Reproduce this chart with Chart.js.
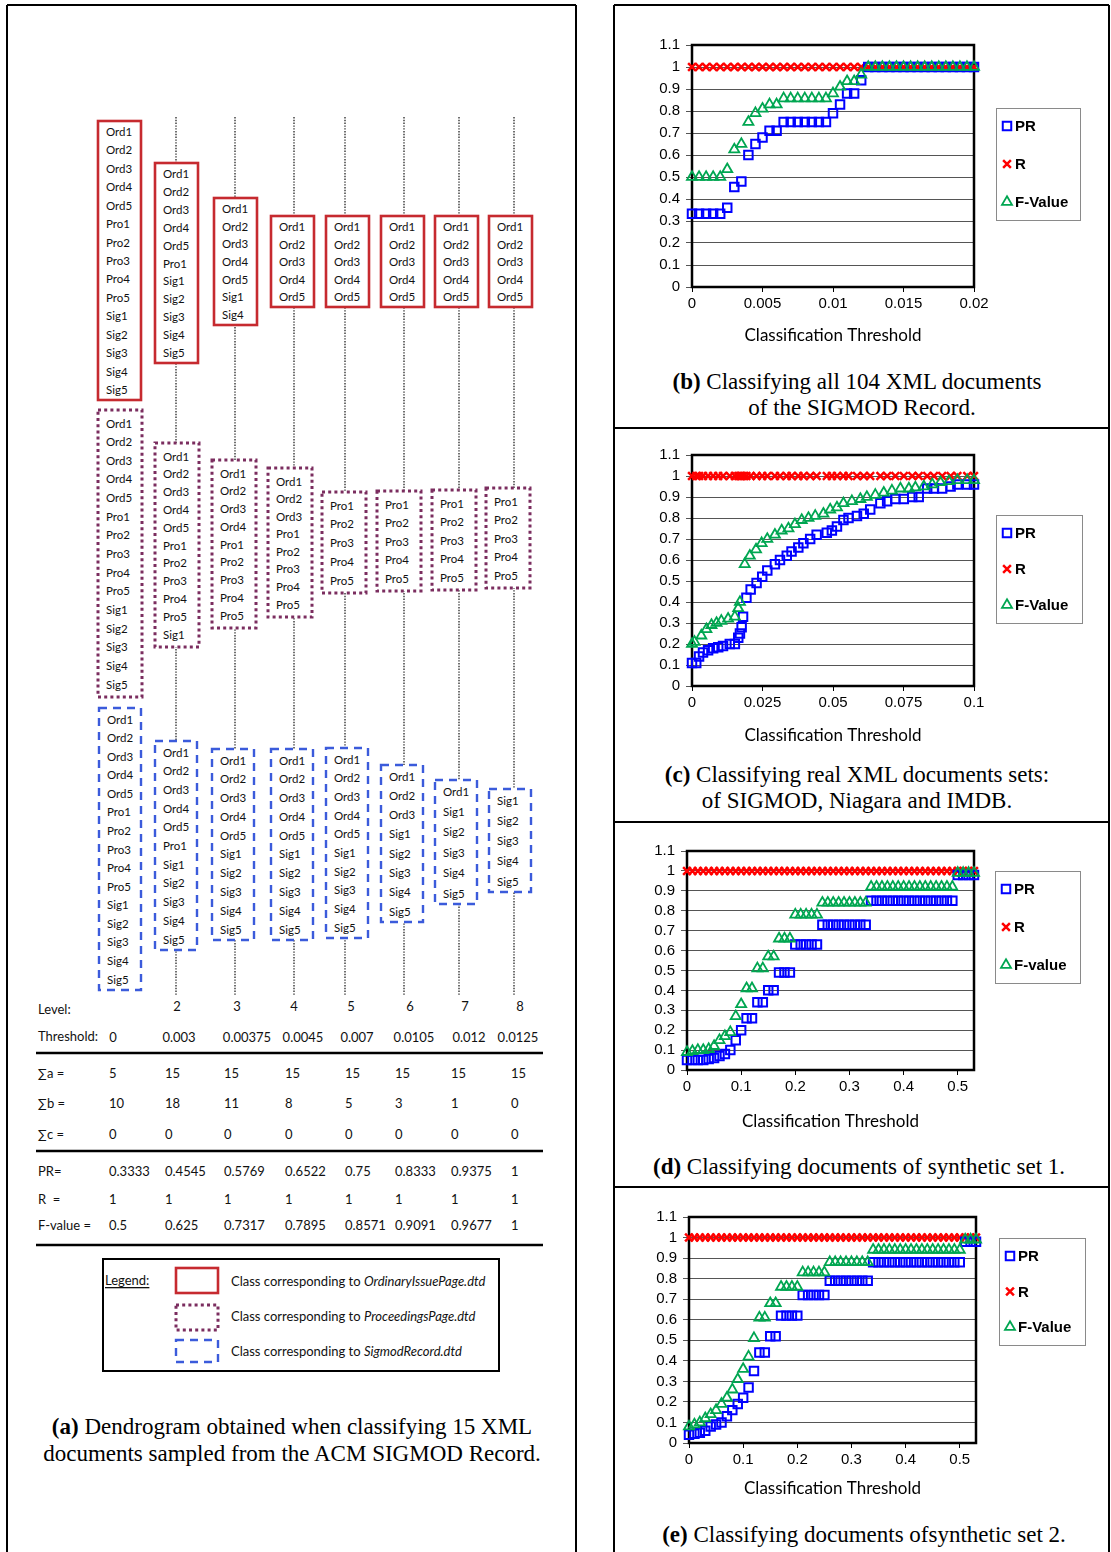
<!DOCTYPE html>
<html>
<head>
<meta charset="utf-8">
<title>PR / R / F-value against classification threshold</title>
<script src="https://cdn.jsdelivr.net/npm/chart.js@4.4.0/dist/chart.umd.min.js"></script>
<style>
  html, body { margin: 0; padding: 0; background: #fff; }
  #page { position: relative; width: 1111px; height: 1552px; overflow: hidden; }
  #page svg { position: absolute; left: 0; top: 0; }
  #page canvas { position: absolute; }
</style>
</head>
<body>
<div id="page">
  <svg id="fig" width="1111" height="1552"></svg>
  <canvas id="chartB"></canvas>
  <canvas id="chartC"></canvas>
  <canvas id="chartD"></canvas>
  <canvas id="chartE"></canvas>
</div>
<script>
// ---------- (a) dendrogram + table data ----------
var ordinaryClusters = [
  ['Ord1','Ord2','Ord3','Ord4','Ord5','Pro1','Pro2','Pro3','Pro4','Pro5','Sig1','Sig2','Sig3','Sig4','Sig5'],
  ['Ord1','Ord2','Ord3','Ord4','Ord5','Pro1','Sig1','Sig2','Sig3','Sig4','Sig5'],
  ['Ord1','Ord2','Ord3','Ord4','Ord5','Sig1','Sig4'],
  ['Ord1','Ord2','Ord3','Ord4','Ord5'],
  ['Ord1','Ord2','Ord3','Ord4','Ord5'],
  ['Ord1','Ord2','Ord3','Ord4','Ord5'],
  ['Ord1','Ord2','Ord3','Ord4','Ord5'],
  ['Ord1','Ord2','Ord3','Ord4','Ord5']
];
var proceedingsClusters = [
  ['Ord1','Ord2','Ord3','Ord4','Ord5','Pro1','Pro2','Pro3','Pro4','Pro5','Sig1','Sig2','Sig3','Sig4','Sig5'],
  ['Ord1','Ord2','Ord3','Ord4','Ord5','Pro1','Pro2','Pro3','Pro4','Pro5','Sig1'],
  ['Ord1','Ord2','Ord3','Ord4','Pro1','Pro2','Pro3','Pro4','Pro5'],
  ['Ord1','Ord2','Ord3','Pro1','Pro2','Pro3','Pro4','Pro5'],
  ['Pro1','Pro2','Pro3','Pro4','Pro5'],
  ['Pro1','Pro2','Pro3','Pro4','Pro5'],
  ['Pro1','Pro2','Pro3','Pro4','Pro5'],
  ['Pro1','Pro2','Pro3','Pro4','Pro5']
];
var sigmodClusters = [
  ['Ord1','Ord2','Ord3','Ord4','Ord5','Pro1','Pro2','Pro3','Pro4','Pro5','Sig1','Sig2','Sig3','Sig4','Sig5'],
  ['Ord1','Ord2','Ord3','Ord4','Ord5','Pro1','Sig1','Sig2','Sig3','Sig4','Sig5'],
  ['Ord1','Ord2','Ord3','Ord4','Ord5','Sig1','Sig2','Sig3','Sig4','Sig5'],
  ['Ord1','Ord2','Ord3','Ord4','Ord5','Sig1','Sig2','Sig3','Sig4','Sig5'],
  ['Ord1','Ord2','Ord3','Ord4','Ord5','Sig1','Sig2','Sig3','Sig4','Sig5'],
  ['Ord1','Ord2','Ord3','Sig1','Sig2','Sig3','Sig4','Sig5'],
  ['Ord1','Sig1','Sig2','Sig3','Sig4','Sig5'],
  ['Sig1','Sig2','Sig3','Sig4','Sig5']
];
var levelLabels = ['', '2', '3', '4', '5', '6', '7', '8'];
var thresholdLabels = ['0', '0.003', '0.00375', '0.0045', '0.007', '0.0105', '0.012', '0.0125'];
var sumA = ['5', '15', '15', '15', '15', '15', '15', '15'];
var sumB = ['10', '18', '11', '8', '5', '3', '1', '0'];
var sumC = ['0', '0', '0', '0', '0', '0', '0', '0'];
var tablePR = ['0.3333', '0.4545', '0.5769', '0.6522', '0.75', '0.8333', '0.9375', '1'];
var tableR = ['1', '1', '1', '1', '1', '1', '1', '1'];
var tableF = ['0.5', '0.625', '0.7317', '0.7895', '0.8571', '0.9091', '0.9677', '1'];

// ---------- (b) all 104 SIGMOD docs ----------
var bX = [0,0.0005,0.001,0.0015,0.002,0.0025,0.003,0.0035,0.004,0.0045,
          0.005,0.0055,0.006,0.0065,0.007,0.0075,0.008,0.0085,0.009,0.0095,
          0.01,0.0105,0.011,0.0115,0.012,0.0125,0.013,0.0135,0.014,0.0145,
          0.015,0.0155,0.016,0.0165,0.017,0.0175,0.018,0.0185,0.019,0.0195,0.02];
var bPR = [0.3333,0.3333,0.3333,0.3333,0.3333,0.36,0.4545,0.48,0.6,0.65,
           0.68,0.71,0.71,0.75,0.75,0.75,0.75,0.75,0.75,0.75,
           0.79,0.83,0.88,0.88,0.94,1,1,1,1,1,
           1,1,1,1,1,1,1,1,1,1,1];
var bR = [1,1,1,1,1,1,1,1,1,1, 1,1,1,1,1,1,1,1,1,1, 1,1,1,1,1,1,1,1,1,1, 1,1,1,1,1,1,1,1,1,1,1];
var bF = [0.5,0.5,0.5,0.5,0.5,0.535,0.625,0.65,0.75,0.79,
          0.81,0.83,0.83,0.857,0.857,0.857,0.857,0.857,0.857,0.857,
          0.88,0.91,0.935,0.935,0.965,1,1,1,1,1,
          1,1,1,1,1,1,1,1,1,1,1];
var bXTicks = [0, 0.005, 0.01, 0.015, 0.02];
var bXLabels = ['0', '0.005', '0.01', '0.015', '0.02'];

// ---------- (c) SIGMOD, Niagara, IMDB ----------
var cXPR = [0,0.0015,0.0025,0.0039,0.0057,0.0075,0.0093,0.011,0.0134,0.0152,
            0.0164,0.017,0.0176,0.0181,0.0193,0.0208,0.0229,0.0249,0.0267,0.0294,
            0.0312,0.0336,0.0353,0.0377,0.0395,0.0419,0.0442,0.0478,0.0496,0.0514,
            0.0537,0.0555,0.0585,0.0609,0.0632,0.0668,0.0692,0.0721,0.0751,0.0781,
            0.0804,0.0834,0.0858,0.0887,0.0917,0.0941,0.0976,0.1];
var cPR = [0.11,0.11,0.14,0.16,0.17,0.18,0.185,0.19,0.2,0.2,
           0.23,0.25,0.28,0.33,0.42,0.46,0.49,0.52,0.55,0.58,
           0.6,0.62,0.64,0.66,0.68,0.7,0.72,0.73,0.74,0.76,
           0.79,0.8,0.81,0.82,0.84,0.87,0.88,0.89,0.89,0.9,
           0.9,0.94,0.94,0.94,0.95,0.96,0.96,0.96];
var cR = [1,1,1,1,1,1,1,1,1,1, 1,1,1,1,1,1,1,1,1,1, 1,1,1,1,1,1,1,1,1,1, 1,1,1,1,1,1,1,1,1,1, 1,1,1,1,1,1,1,1];
var cXF = [0,0.0009,0.0033,0.0051,0.0069,0.0087,0.0104,0.0128,0.0152,0.0164,
           0.017,0.0187,0.0205,0.0227,0.0247,0.0267,0.0294,0.0318,0.0342,0.0365,
           0.0389,0.0413,0.0437,0.0466,0.049,0.0514,0.0537,0.0567,0.0597,0.062,
           0.065,0.068,0.0709,0.0739,0.0769,0.0792,0.0822,0.0852,0.0881,0.0911,
           0.0941,0.0976,0.1];
var cF = [0.2,0.21,0.24,0.27,0.29,0.3,0.31,0.32,0.33,0.37,
          0.4,0.58,0.62,0.65,0.68,0.7,0.72,0.74,0.75,0.77,
          0.79,0.8,0.81,0.82,0.84,0.85,0.87,0.88,0.89,0.9,
          0.91,0.92,0.93,0.94,0.94,0.945,0.95,0.96,0.97,0.975,
          0.98,0.98,0.98];
var cXTicks = [0, 0.025, 0.05, 0.075, 0.1];
var cXLabels = ['0', '0.025', '0.05', '0.075', '0.1'];

// ---------- (d), (e) synthetic sets ----------
var synthX = [0,0.01,0.02,0.03,0.04,0.05,0.06,0.07,0.08,0.09,
              0.1,0.11,0.12,0.13,0.14,0.15,0.16,0.17,0.18,0.19,
              0.2,0.21,0.22,0.23,0.24,0.25,0.26,0.27,0.28,0.29,
              0.3,0.31,0.32,0.33,0.34,0.35,0.36,0.37,0.38,0.39,
              0.4,0.41,0.42,0.43,0.44,0.45,0.46,0.47,0.48,0.49,
              0.5,0.51,0.52,0.53];
var synthR = [1,1,1,1,1,1,1,1,1,1, 1,1,1,1,1,1,1,1,1,1, 1,1,1,1,1,1,1,1,1,1,
              1,1,1,1,1,1,1,1,1,1, 1,1,1,1,1,1,1,1,1,1, 1,1,1,1];
var dPR = [0.05,0.05,0.05,0.05,0.055,0.06,0.07,0.08,0.1,0.15,
           0.2,0.26,0.26,0.34,0.34,0.4,0.4,0.49,0.49,0.49,
           0.63,0.63,0.63,0.63,0.63,0.73,0.73,0.73,0.73,0.73,
           0.73,0.73,0.73,0.73,0.85,0.85,0.85,0.85,0.85,0.85,
           0.85,0.85,0.85,0.85,0.85,0.85,0.85,0.85,0.85,0.85,
           0.98,0.98,0.98,0.98];
var dF = [0.09,0.095,0.1,0.1,0.105,0.12,0.15,0.17,0.19,0.27,
          0.33,0.41,0.41,0.51,0.51,0.57,0.57,0.66,0.66,0.66,
          0.78,0.78,0.78,0.78,0.78,0.84,0.84,0.84,0.84,0.84,
          0.84,0.84,0.84,0.84,0.92,0.92,0.92,0.92,0.92,0.92,
          0.92,0.92,0.92,0.92,0.92,0.92,0.92,0.92,0.92,0.92,
          0.99,0.99,0.99,0.99];
var ePR = [0.04,0.045,0.05,0.06,0.08,0.09,0.1,0.13,0.16,0.19,
           0.22,0.27,0.35,0.44,0.44,0.52,0.52,0.62,0.62,0.62,
           0.62,0.72,0.72,0.72,0.72,0.72,0.79,0.79,0.79,0.79,
           0.79,0.79,0.79,0.79,0.88,0.88,0.88,0.88,0.88,0.88,
           0.88,0.88,0.88,0.88,0.88,0.88,0.88,0.88,0.88,0.88,
           0.88,0.98,0.98,0.98];
var eF = [0.08,0.09,0.1,0.12,0.14,0.16,0.19,0.22,0.26,0.31,
          0.36,0.42,0.51,0.61,0.61,0.68,0.68,0.76,0.76,0.76,
          0.76,0.83,0.83,0.83,0.83,0.83,0.88,0.88,0.88,0.88,
          0.88,0.88,0.88,0.88,0.94,0.94,0.94,0.94,0.94,0.94,
          0.94,0.94,0.94,0.94,0.94,0.94,0.94,0.94,0.94,0.94,
          0.94,0.99,0.99,0.99];
var synthXTicks = [0, 0.1, 0.2, 0.3, 0.4, 0.5];
var synthXLabels = ['0', '0.1', '0.2', '0.3', '0.4', '0.5'];

var yTicks = [0, 0.1, 0.2, 0.3, 0.4, 0.5, 0.6, 0.7, 0.8, 0.9, 1, 1.1];
var yLabels = ['0', '0.1', '0.2', '0.3', '0.4', '0.5', '0.6', '0.7', '0.8', '0.9', '1', '1.1'];

// ================= SVG part (frames, dendrogram, table, captions) =================
var NS = 'http://www.w3.org/2000/svg';
var fig = document.getElementById('fig');
function el(tag, attrs, parent, text) {
  var e = document.createElementNS(NS, tag);
  for (var k in attrs) e.setAttribute(k, attrs[k]);
  if (text !== undefined) e.textContent = text;
  (parent || fig).appendChild(e);
  return e;
}
function line(x1, y1, x2, y2, st) {
  var a = { x1: x1, y1: y1, x2: x2, y2: y2, stroke: '#000', 'stroke-width': 2 };
  for (var k in st) a[k] = st[k];
  return el('line', a);
}

// panel frames
[[7,5,7,1552],[7,5,576,5],[576,5,576,1552],
 [614,5,614,1552],[614,5,1109,5],[1109,5,1109,1552],
 [614,428,1109,428],[614,822,1109,822],[614,1187,1109,1187]].forEach(function (l) {
  line(l[0], l[1], l[2], l[3]);
});

// dotted level lines
[176, 235, 294, 345, 404, 459, 514].forEach(function (x) {
  line(x, 117, x, 995, { stroke: '#333', 'stroke-width': 1.4, 'stroke-dasharray': '1.4,1.4' });
});

var redStyle = { stroke: '#C62A2F', 'stroke-width': 2.6 };
var purpleStyle = { stroke: '#7B2D5F', 'stroke-width': 3, 'stroke-dasharray': '3,3.2' };
var blueStyle = { stroke: '#3B5BDB', 'stroke-width': 2.4, 'stroke-dasharray': '8,6' };

function drawClusters(clusters, lefts, width, spans, style, pad) {
  clusters.forEach(function (items, i) {
    var x = lefts[i], top = spans[i][0], h = spans[i][1] - spans[i][0];
    var a = { x: x, y: top, width: width, height: h, fill: '#fff' };
    for (var k in style) a[k] = style[k];
    el('rect', a);
    var step = (h - 2 * pad) / (items.length - 1);
    items.forEach(function (name, j) {
      el('text', { x: x + 8, y: top + pad + j * step, 'dominant-baseline': 'central',
                   'font-family': 'Lato', 'font-size': 11.5, fill: '#111' }, null, name);
    });
  });
}
drawClusters(ordinaryClusters, [98,155,214,271,326,381,435,489], 43,
  [[121,400],[163,363],[198,325],[216,307],[216,307],[216,307],[216,307],[216,307]], redStyle, 10.5);
drawClusters(proceedingsClusters, [98,155,212,268,322,377,432,486], 44,
  [[410,697],[443,647],[460,628],[468,617],[492,593],[491,591],[490,590],[488,588]], purpleStyle, 13);
drawClusters(sigmodClusters, [99,155,212,271,326,381,435,489], 42,
  [[708,990],[741,950],[749,940],[749,940],[748,938],[765,922],[780,904],[789,892]], blueStyle, 11);

// table
var tFont = { 'font-family': 'Lato', 'font-size': 13, fill: '#111', 'dominant-baseline': 'central' };
function tText(x, y, s, anchor) {
  var a = { x: x, y: y, 'text-anchor': anchor || 'start' };
  for (var k in tFont) a[k] = tFont[k];
  return el('text', a, null, s);
}
var colStart = [109, 165, 224, 285, 345, 395, 451, 511];
var thrCenter = [113, 179, 247, 303, 357, 414, 469, 518];
var lvlCenter = [113, 177, 237, 294, 351, 410, 465, 520];
tText(38, 1009, 'Level:');
levelLabels.forEach(function (s, i) { if (s) tText(lvlCenter[i], 1006, s, 'middle'); });
tText(38, 1036, 'Threshold:');
thresholdLabels.forEach(function (s, i) { tText(thrCenter[i], 1037, s, 'middle'); });
[['\u2211a =', sumA, 1073], ['\u2211b =', sumB, 1103], ['\u2211c =', sumC, 1134],
 ['PR=', tablePR, 1171], ['R\u00a0\u00a0=', tableR, 1199], ['F-value =', tableF, 1225]].forEach(function (r) {
  tText(38, r[2], r[0]);
  r[1].forEach(function (s, i) { tText(colStart[i], r[2], s); });
});
[1053, 1151, 1245].forEach(function (y) { line(36, y, 543, y, { 'stroke-width': 2.6 }); });

// legend of (a)
el('rect', { x: 103, y: 1259, width: 396, height: 112, fill: 'none', stroke: '#000', 'stroke-width': 2 });
el('text', { x: 105, y: 1280, 'dominant-baseline': 'central', 'font-family': 'Lato', 'font-size': 13,
             'text-decoration': 'underline', fill: '#111' }, null, 'Legend:');
[[redStyle, 1268, 25, 'OrdinaryIssuePage.dtd', 1281],
 [purpleStyle, 1305, 25, 'ProceedingsPage.dtd', 1316],
 [blueStyle, 1340, 22, 'SigmodRecord.dtd', 1351]].forEach(function (row) {
  var a = { x: 176, y: row[1], width: 42, height: row[2], fill: '#fff' };
  for (var k in row[0]) a[k] = row[0][k];
  el('rect', a);
  var t = el('text', { x: 231, y: row[4], 'dominant-baseline': 'central', 'font-family': 'Lato',
                       'font-size': 13, fill: '#111' });
  el('tspan', {}, t, 'Class corresponding to ');
  el('tspan', { 'font-style': 'italic' }, t, row[3]);
});

// captions
function caption(cx, cy, bold, rest) {
  var t = el('text', { x: cx, y: cy, 'text-anchor': 'middle', 'dominant-baseline': 'central',
                       'font-family': 'Liberation Serif', 'font-size': 23, fill: '#000' });
  if (bold) el('tspan', { 'font-weight': 'bold' }, t, bold);
  el('tspan', {}, t, rest);
}
caption(292, 1426, '(a)', ' Dendrogram obtained when classifying 15 XML');
caption(292, 1453, '', 'documents sampled from the ACM SIGMOD Record.');
caption(857, 381, '(b)', ' Classifying all 104 XML documents');
caption(862, 407, '', 'of the SIGMOD Record.');
caption(857, 774, '(c)', ' Classifying real XML documents sets:');
caption(857, 800, '', 'of SIGMOD, Niagara and IMDB.');
caption(859, 1166, '(d)', ' Classifying documents of synthetic set 1.');
caption(864, 1534, '(e)', ' Classifying documents ofsynthetic set 2.');

// ================= Chart.js part =================
function pts(xs, ys) { return xs.map(function (x, i) { return { x: x, y: ys[i] }; }); }

function drawMarker(ctx, style, r, x, y) {
  ctx.beginPath();
  if (style === 'rect') {
    var s = Math.SQRT1_2 * r;
    ctx.rect(x - s, y - s, 2 * s, 2 * s);
  } else if (style === 'triangle') {
    ctx.moveTo(x, y - r);
    ctx.lineTo(x + r * Math.sin(2 * Math.PI / 3), y - r * Math.cos(2 * Math.PI / 3));
    ctx.lineTo(x + r * Math.sin(4 * Math.PI / 3), y - r * Math.cos(4 * Math.PI / 3));
    ctx.closePath();
  } else {
    var o = Math.SQRT1_2 * r;
    ctx.moveTo(x - o, y - o); ctx.lineTo(x + o, y + o);
    ctx.moveTo(x + o, y - o); ctx.lineTo(x - o, y + o);
  }
  ctx.stroke();
}

// frame round the plot area
var plotFrame = {
  id: 'plotFrame',
  beforeDatasetsDraw: function (chart) {
    var a = chart.chartArea, ctx = chart.ctx;
    ctx.save();
    ctx.strokeStyle = '#000';
    ctx.lineWidth = 2.5;
    ctx.strokeRect(a.left, a.top, a.right - a.left, a.bottom - a.top);
    ctx.restore();
  }
};

// Excel-like boxed legend to the right of the plot
var boxLegend = {
  id: 'boxLegend',
  afterDraw: function (chart, args, o) {
    var a = chart.chartArea, ctx = chart.ctx;
    var x0 = a.right + o.dx, y0 = a.top + o.dy;
    ctx.save();
    ctx.strokeStyle = '#8a8a8a';
    ctx.lineWidth = 1;
    ctx.strokeRect(Math.round(x0) + 0.5, Math.round(y0) + 0.5, o.w, o.h);
    var step = (o.h - 36) / 2;
    chart.data.datasets.forEach(function (ds, i) {
      var y = y0 + 18 + i * step;
      ctx.strokeStyle = ds.pointBorderColor;
      ctx.lineWidth = ds.pointBorderWidth;
      drawMarker(ctx, ds.pointStyle, ds.pointRadius, x0 + 11, y);
      ctx.fillStyle = '#000';
      ctx.font = 'bold 15px "Liberation Sans", Arial, sans-serif';
      ctx.textBaseline = 'middle';
      ctx.fillText(ds.label, x0 + 19, y + 1);
    });
    ctx.restore();
  }
};

function makeChart(id, p) {
  var canvasLeft = p.plotLeft - 67, canvasTop = p.plotTop - 14, canvasRight = 1105;
  var canvasBottom = Math.round(p.titleY + 10.2 + 4);
  var w = canvasRight - canvasLeft, h = canvasBottom - canvasTop;
  var cv = document.getElementById(id);
  cv.width = w; cv.height = h;
  cv.style.left = canvasLeft + 'px'; cv.style.top = canvasTop + 'px';
  cv.style.width = w + 'px'; cv.style.height = h + 'px';
  var tickFont = { family: '"Liberation Sans", Arial, sans-serif', size: 15 };
  var xHeight = canvasBottom - p.plotBottom;

  function series(label, data, style, color, radius, bw, order) {
    return {
      label: label, data: data, showLine: false, clip: false, order: order,
      pointStyle: style, pointRadius: radius, pointHoverRadius: radius,
      pointBorderColor: color, pointBackgroundColor: 'rgba(0,0,0,0)', pointBorderWidth: bw
    };
  }

  return new Chart(cv, {
    type: 'scatter',
    data: {
      datasets: [
        series('PR', p.pr, 'rect', '#0000FF', 6, 2, 1),
        series('R', p.r, 'crossRot', '#FF0000', 5.5, 2.5, 2),
        series(p.fLabel, p.f, 'triangle', '#00A651', 5.8, 1.8, 0)
      ]
    },
    options: {
      responsive: false,
      animation: false,
      devicePixelRatio: 1,
      layout: { padding: { top: 14, right: canvasRight - p.plotRight, left: 0, bottom: 0 } },
      plugins: {
        legend: { display: false },
        tooltip: { enabled: false },
        boxLegend: p.legend
      },
      scales: {
        x: {
          type: 'linear', min: 0, max: p.xMax,
          afterFit: function (s) { s.height = xHeight; },
          afterBuildTicks: function (s) { s.ticks = p.xTicks.map(function (v) { return { value: v }; }); },
          ticks: { font: tickFont, color: '#000', padding: 3, maxRotation: 0, autoSkip: false,
                   callback: function (v, i) { return p.xLabels[i]; } },
          grid: { drawOnChartArea: false, drawTicks: true, tickLength: 5, color: '#000' },
          border: { display: true, color: '#000', width: 2 },
          title: { display: true, text: 'Classification Threshold', color: '#000',
                   font: { family: 'Lato', size: 17 }, padding: { top: 0, bottom: 4 } }
        },
        y: {
          min: 0, max: 1.1,
          afterFit: function (s) { s.width = 67; },
          afterBuildTicks: function (s) { s.ticks = yTicks.map(function (v) { return { value: v }; }); },
          ticks: { font: tickFont, color: '#000', padding: 6, autoSkip: false,
                   callback: function (v, i) { return yLabels[i]; } },
          grid: { color: '#555', lineWidth: 1, drawTicks: true, tickLength: 6 },
          border: { color: '#000', width: 2 }
        }
      }
    },
    plugins: [plotFrame, boxLegend]
  });
}

makeChart('chartB', {
  plotLeft: 692, plotRight: 974, plotTop: 44, plotBottom: 287, titleY: 336,
  xMax: 0.02, xTicks: bXTicks, xLabels: bXLabels, fLabel: 'F-Value',
  pr: pts(bX, bPR), r: pts(bX, bR), f: pts(bX, bF),
  legend: { dx: 22, dy: 63, w: 84, h: 112 }
});
makeChart('chartC', {
  plotLeft: 692, plotRight: 974, plotTop: 454, plotBottom: 686, titleY: 736,
  xMax: 0.1, xTicks: cXTicks, xLabels: cXLabels, fLabel: 'F-Value',
  pr: pts(cXPR, cPR), r: pts(cXPR, cR), f: pts(cXF, cF),
  legend: { dx: 22, dy: 60, w: 86, h: 108 }
});
makeChart('chartD', {
  plotLeft: 687, plotRight: 974, plotTop: 850, plotBottom: 1070, titleY: 1122,
  xMax: 0.53, xTicks: synthXTicks, xLabels: synthXLabels, fLabel: 'F-value',
  pr: pts(synthX, dPR), r: pts(synthX, synthR), f: pts(synthX, dF),
  legend: { dx: 21, dy: 20, w: 85, h: 112 }
});
makeChart('chartE', {
  plotLeft: 689, plotRight: 976, plotTop: 1216, plotBottom: 1443, titleY: 1489,
  xMax: 0.53, xTicks: synthXTicks, xLabels: synthXLabels, fLabel: 'F-Value',
  pr: pts(synthX, ePR), r: pts(synthX, synthR), f: pts(synthX, eF),
  legend: { dx: 23, dy: 21, w: 86, h: 107 }
});
</script>
</body>
</html>
